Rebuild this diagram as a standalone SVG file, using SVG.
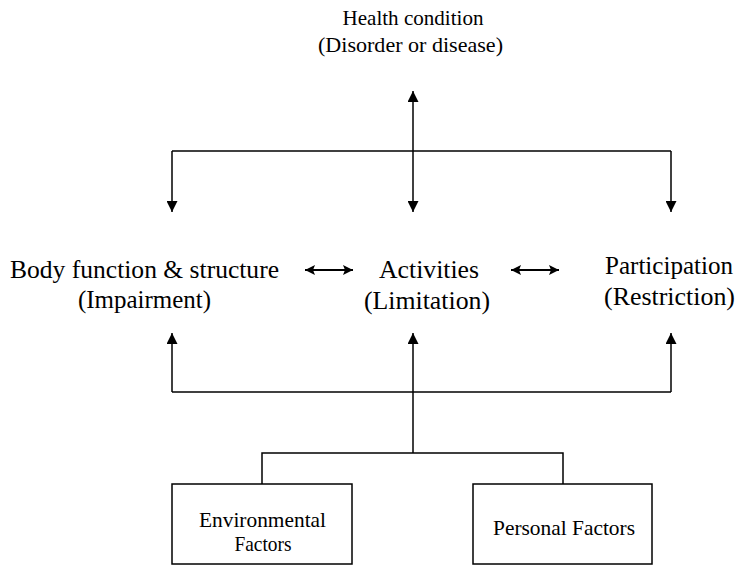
<svg xmlns="http://www.w3.org/2000/svg" width="739" height="575" viewBox="0 0 739 575">
<style>
text{font-family:"Liberation Serif","Times New Roman",serif;fill:#000;text-anchor:middle}
.big{font-size:26px}
.hc{font-size:21px}
.sm{font-size:21.5px}
.ln{fill:none;stroke:#000;stroke-width:1.5}
.dl{fill:none;stroke:#000;stroke-width:2}
.box{fill:#fff;stroke:#000;stroke-width:1.5}
</style>
<defs>
<marker id="ah" viewBox="0 0 10 10" refX="10" refY="5" markerWidth="12" markerHeight="10" markerUnits="userSpaceOnUse" orient="auto-start-reverse">
<path d="M0,0 L10,5 L0,10 L2,5 z" fill="#000"/>
</marker>
<marker id="ah2" viewBox="0 0 10 10" refX="10" refY="5" markerWidth="12" markerHeight="11" markerUnits="userSpaceOnUse" orient="auto-start-reverse">
<path d="M0,0 L10,5 L0,10 z" fill="#000"/>
</marker>
</defs>
<g id="health">
<text class="hc" x="413" y="25" textLength="141" lengthAdjust="spacingAndGlyphs">Health condition</text>
<text class="hc" x="410.5" y="52" textLength="185" lengthAdjust="spacingAndGlyphs">(Disorder or disease)</text>
</g>
<g id="body">
<text class="big" x="144.5" y="278" textLength="269" lengthAdjust="spacingAndGlyphs">Body function &amp; structure</text>
<text class="big" x="144.5" y="308" textLength="133" lengthAdjust="spacingAndGlyphs">(Impairment)</text>
</g>
<g id="activities">
<text class="big" x="429" y="278" textLength="100" lengthAdjust="spacingAndGlyphs">Activities</text>
<text class="big" x="427" y="309" textLength="126" lengthAdjust="spacingAndGlyphs">(Limitation)</text>
</g>
<g id="participation">
<text class="big" x="669" y="274" textLength="128" lengthAdjust="spacingAndGlyphs">Participation</text>
<text class="big" x="669.5" y="305" textLength="131" lengthAdjust="spacingAndGlyphs">(Restriction)</text>
</g>
<g id="env">
<rect class="box" x="172" y="484" width="180" height="80"/>
<text class="sm" x="262.5" y="527" textLength="127" lengthAdjust="spacingAndGlyphs">Environmental</text>
<text class="sm" x="263" y="551" textLength="57" lengthAdjust="spacingAndGlyphs">Factors</text>
</g>
<g id="personal">
<rect class="box" x="473" y="484" width="179" height="80"/>
<text class="sm" x="564" y="535" textLength="142" lengthAdjust="spacingAndGlyphs">Personal Factors</text>
</g>
<g id="connectors">
<path class="ln" d="M172,151 H671"/>
<line class="ln" x1="413" y1="212" x2="413" y2="91" marker-start="url(#ah2)" marker-end="url(#ah2)"/>
<line class="ln" x1="172" y1="151" x2="172" y2="212" marker-end="url(#ah2)"/>
<line class="ln" x1="671" y1="151" x2="671" y2="212" marker-end="url(#ah2)"/>
<line class="dl" x1="305" y1="270" x2="353" y2="270" marker-start="url(#ah)" marker-end="url(#ah)"/>
<line class="dl" x1="511" y1="270" x2="559" y2="270" marker-start="url(#ah)" marker-end="url(#ah)"/>
<path class="ln" d="M172,392 H671"/>
<line class="ln" x1="172" y1="392" x2="172" y2="333" marker-end="url(#ah2)"/>
<line class="ln" x1="671" y1="392" x2="671" y2="333" marker-end="url(#ah2)"/>
<line class="ln" x1="413" y1="453" x2="413" y2="333" marker-end="url(#ah2)"/>
<path class="ln" d="M262,484 V453 H563 V484"/>
</g>
</svg>
